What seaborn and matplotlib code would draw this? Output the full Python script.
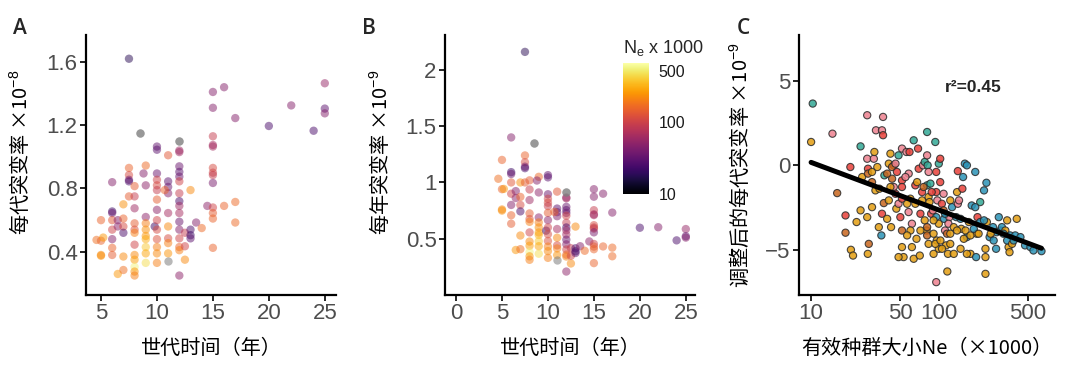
import numpy as np
import pandas as pd
import seaborn as sns
import matplotlib.pyplot as plt
from matplotlib.colors import LogNorm
from matplotlib.cm import ScalarMappable
from matplotlib.ticker import NullLocator

NA = np.nan

# panels A/B: generation time (years), mutation rate per generation (x1e-8), Ne (x1000)
gen_time = [7.5, 8.5, 8.5, 12, 12, 10, 10, 11, 12, 12,
            15, 15, 16, 17, 15, 15, 15, 15, 15, 15, 15, 14.5, 15, 16, 17, 17, 15, 15, 15,
            20, 22, 24, 25, 25, 25,
            5, 4.6, 5, 5.2, 5, 5,
            6, 6, 6, 6, 6, 6, 6, 6, 6.5, 6.5, 6.5,
            7, 7, 7, 7, 7, 7,
            7.5, 7.5, 7.5, 7.5, 7.5,
            8, 8, 8, 8, 8, 8, 8, 8, 8, 8, 8, 8,
            9, 8.8, 9, 9, 9, 9, 9, 9, 9, 9, 9,
            10, 10, 10, 10, 10, 10, 9.8, 10, 10, 10, 10, 10, 10,
            11, 11, 11, 11, 11, 11, 11, 11, 11, 10.7,
            12, 12, 12, 12, 12, 12, 12, 12, 12, 12, 12, 12, 12, 12,
            12.5, 12.5, 12.5,
            13, 13, 13, 13, 13.5, 14]
mu_gen = [1.62, 1.15, 1.15, 1.10, 1.10, 1.065, 1.045, 1.01, 1.03, 1.04,
          1.41, 1.31, 1.44, 1.245, 1.13, 1.075, 1.065, 0.93, 0.90, 0.885, 0.835, 0.69, 0.68, 0.69, 0.715, 0.585, 0.645, 0.61, 0.425,
          1.195, 1.325, 1.165, 1.465, 1.305, 1.275,
          0.60, 0.475, 0.47, 0.49, 0.38, 0.375,
          0.84, 0.655, 0.645, 0.60, 0.54, 0.48, 0.425, 0.38, 0.60, 0.56, 0.26,
          0.70, 0.61, 0.56, 0.52, 0.37, 0.285,
          0.93, 0.885, 0.855, 0.845, 0.75,
          0.815, 0.75, 0.675, 0.58, 0.54, 0.52, 0.445, 0.38, 0.35, 0.305, 0.275, 0.25,
          0.945, 0.895, 0.82, 0.62, 0.58, 0.54, 0.50, 0.48, 0.43, 0.39, 0.33,
          0.895, 0.855, 0.82, 0.79, 0.73, 0.665, 0.56, 0.60, 0.54, 0.48, 0.43, 0.39, 0.33,
          0.845, 0.81, 0.77, 0.645, 0.56, 0.485, 0.455, 0.39, 0.34, 0.79,
          0.94, 0.905, 0.875, 0.845, 0.77, 0.72, 0.69, 0.645, 0.59, 0.54, 0.485, 0.43, 0.41, 0.25,
          0.52, 0.435, 0.35,
          0.54, 0.505, 0.485, 0.79, 0.585, 0.55]
ne = [18, NA, NA, NA, NA, 32, 30, 130, 60, 60,
      45, 45, 45, 45, 90, 65, 65, 110, 100, 90, 40, 50, 100, 150, 160, 160, 140, 150, 150,
      25, 45, 25, 55, 30, 45,
      150, 170, 150, 250, 220, 230,
      45, 22, 35, 130, 100, 45, 150, 140, 45, 50, 250,
      230, 150, 110, 25, 220, 170,
      150, 110, 40, 25, 140,
      140, 90, 60, 140, 120, 200, 100, 220, 260, 550, 240, 200,
      160, 45, 50, 50, 200, 230, 250, 300, 380, 280, 450,
      35, 100, 110, 90, 140, 50, 22, 100, 110, 120, 200, 220, 200,
      30, 35, 45, 65, 220, 110, 200, 240, NA, 150,
      35, 30, 35, 100, 90, 25, 60, 65, 35, 45, 100, 150, 200, 50,
      90, 100, 220,
      25, 22, 30, 220, 45, 160]

# panel C: Ne (x1000), adjusted per-generation rate (x1e-9), group
ne_c = [10.3, 10, 14.7, 16, 18.6, 18.6, 20.3, 20.5, 21.3, 22.7,
        24.4, 24.4, 25.1, 27.5, 27.5, 27.9, 27.9, 28.3, 27.8, 27.5,
        30, 31, 31.3, 30, 31.9, 32.2, 35.9, 36.6, 36.6, 34.3,
        33.9, 35.9, 37.1, 37.5, 35.5, 39.4, 40.6, 41.8, 43.1, 44.4,
        42.3, 44.4, 45.8, 46.5, 48.4, 48.4, 51.5, 51.5, 51.5, 50,
        51.5, 51.5, 53, 55.8, 59, 58.1, 59.9, 61.6, 61.6, 63.6,
        63.6, 65.5, 67.6, 68.8, 69.6, 66.9, 71, 74, 75.2, 77.6,
        81, 81, 81.8, 83.2, 81, 83.2, 84.5, 80.3, 81, 83.2,
        87.1, 90, 93.9, 95.5, 100, 102.6, 102.6, 95.5, 97.4, 95.5,
        100, 96.4, 100, 95.5, 105.7, 109, 110, 112, 116, 114,
        118, 116.6, 121, 123, 127, 123, 137, 139, 141, 141,
        153, 150, 148, 160, 166, 166, 172, 177, 155, 166,
        181, 193, 201, 211, 226, 236, 211, 198, 196, 232,
        232, 232, 238, 250, 266, 284, 281, 303, 295, 312,
        332, 343, 352, 358, 362, 397, 408, 436, 474, 522,
        551, 637,
        39.4, 43, 47, 45.8, 41.8, 51.5, 54.8, 56.5, 58, 60,
        56.5, 65.5, 71.8, 74, 76, 86, 88, 91, 91, 94,
        103, 106, 109, 112, 119, 123, 131, 131, 144, 148,
        157, 162, 177, 188, 193, 205, 226, 255, 269, 321,
        343, 375, 386, 30, 33, 40.6, 48.4, 71.8, 77.6, 81,
        91, 139]
adj_rate = [3.65, 1.38, 1.87, -1.64, -2.96, -3.98, -0.1, -4.99, -5.33, -3.35,
            1.12, -2.66, -0.69, 2.96, 0.39, -0.2, -0.49, -4.64, -5.23, -3.06,
            -2.47, 0.39, 0.79, -0.39, -1.48, 2.07, 2.07, 2.86, 1.78, -1.38,
            -3.65, -2.86, -2.23, -0.59, -4.14, -3.16, 0.1, 0.69, -0.79, 0.0,
            -3.65, -1.28, -1.68, -2.56, -2.27, 0.59, 0.99, -0.89, -1.28, -3.06,
            -3.85, -4.83, -5.42, 0.79, 0.79, -0.49, -1.97, -3.45, -4.83, -5.52,
            1.48, -1.18, -0.99, 0.99, -0.2, -4.34, -5.33, -2.07, 0.0, 0.2,
            1.97, 0.59, 0.0, -0.39, -1.18, -1.87, -2.17, -3.85, -4.14, -4.64,
            -2.86, -2.66, 1.38, -0.39, 0.1, 0.39, -0.99, -1.58, -2.07, -3.06,
            -3.45, -4.44, -4.93, -6.9, -2.27, -2.66, -3.16, -3.85, -4.04, -4.73,
            -5.23, -6.27, -3.06, -2.07, -2.47, -4.04, -3.06, -1.58, -0.34, -2.27,
            -1.38, -3.75, -4.93, 0.1, 0.0, -4.24, -3.35, -5.23, -0.69, -5.23,
            -2.37, -0.39, -3.06, -2.17, -1.48, -1.03, -3.35, -4.04, -5.42, -4.93,
            -5.42, -6.41, -3.35, -4.24, -3.65, -3.95, -4.93, -3.85, -3.06, -3.65,
            -3.85, -3.25, -4.83, -5.13, -4.14, -4.14, -3.16, -4.24, -4.73, -4.83,
            -5.03, -5.07,
            -0.49, -0.1, -0.39, 0.1, -1.28, -1.97, -0.69, -2.27, -2.76, -3.85,
            -4.14, -2.27, -3.85, -1.58, -1.28, -1.08, -1.58, -4.04, -5.23, -4.64,
            -4.44, -4.93, -1.68, -2.86, -3.45, -4.64, -3.65, -5.23, -2.07, -3.16,
            -4.34, -3.85, -4.14, -3.75, -2.47, -4.04, -3.25, -4.04, -4.44, -4.04,
            -4.44, -4.64, -4.44, -0.99, -0.1, -2.07, -5.42, -2.86, -3.25, -3.65,
            -3.25, -3.85]
group_c = ["teal", "gold", "pink", "brown", "red", "brown", "red", "gold", "gold", "gold",
           "teal", "gold", "gold", "pink", "pink", "red", "brown", "brown", "gold", "gold",
           "gold", "pink", "gold", "gold", "gold", "pink", "pink", "pink", "red", "gold",
           "gold", "red", "brown", "teal", "blue", "gold", "gold", "gold", "brown", "brown",
           "gold", "pink", "red", "gold", "pink", "teal", "pink", "red", "red", "red",
           "brown", "gold", "gold", "pink", "red", "pink", "gold", "pink", "gold", "gold",
           "teal", "red", "gold", "red", "red", "gold", "gold", "gold", "pink", "teal",
           "teal", "pink", "teal", "pink", "teal", "gold", "gold", "gold", "brown", "gold",
           "red", "pink", "teal", "red", "teal", "red", "red", "red", "pink", "blue",
           "gold", "gold", "gold", "pink", "red", "brown", "blue", "pink", "brown", "gold",
           "gold", "gold", "pink", "gold", "blue", "gold", "blue", "gold", "red", "pink",
           "red", "gold", "gold", "blue", "blue", "blue", "gold", "gold", "blue", "gold",
           "blue", "blue", "red", "teal", "blue", "blue", "blue", "gold", "blue", "gold",
           "gold", "gold", "gold", "blue", "blue", "blue", "blue", "blue", "blue", "blue",
           "gold", "gold", "gold", "gold", "blue", "blue", "gold", "blue", "blue", "blue",
           "blue", "blue",
           "brown", "brown", "red", "pink", "gold", "red", "pink", "gold", "pink", "gold",
           "gold", "gold", "gold", "red", "brown", "teal", "red", "gold", "gold", "gold",
           "gold", "gold", "pink", "blue", "pink", "gold", "gold", "gold", "pink", "blue",
           "gold", "gold", "gold", "blue", "blue", "gold", "blue", "gold", "blue", "blue",
           "blue", "gold", "blue", "brown", "gold", "gold", "gold", "red", "gold", "brown",
           "gold", "gold"]
group_colors = {"gold": "#E39E12", "blue": "#2B93B6", "teal": "#33A896",
                "red": "#E8413A", "pink": "#EE8290", "brown": "#C8661E"}

sns.set_theme(style="ticks")
plt.rcParams['font.family'] = ['Liberation Sans', 'Noto Sans CJK SC', 'DejaVu Sans']
plt.rcParams['mathtext.fontset'] = 'custom'
plt.rcParams['mathtext.rm'] = 'Liberation Sans'
plt.rcParams['mathtext.it'] = 'Liberation Sans:italic'
CJK = ['Noto Sans CJK SC', 'DejaVu Sans']


def style(ax):
    sns.despine(ax=ax)
    for s in ("left", "bottom"):
        ax.spines[s].set_linewidth(1.6)
        ax.spines[s].set_color("black")
    ax.tick_params(length=4, width=1.2, color="black", labelcolor="#4D4D4D",
                   labelsize=16, pad=2)


df_a = pd.DataFrame({"gen_time": gen_time, "mu_gen": mu_gen, "ne": ne})
# per-year rate (x1e-9) = per-generation rate / generation time
df_a["mu_year"] = df_a["mu_gen"] * 10 / df_a["gen_time"]
known = df_a.dropna(subset=["ne"])
missing = df_a[df_a["ne"].isna()]
norm = LogNorm(10, 650)

fig = plt.figure(figsize=(10.8, 3.76), dpi=100)
ax_a = fig.add_axes([86 / 1080, 81 / 376, 250 / 1080, 260 / 376])
ax_b = fig.add_axes([445 / 1080, 81 / 376, 250 / 1080, 260 / 376])
ax_c = fig.add_axes([799 / 1080, 81 / 376, 256 / 1080, 260 / 376])

for ax, ycol in ((ax_a, "mu_gen"), (ax_b, "mu_year")):
    sns.scatterplot(data=known, x="gen_time", y=ycol, hue="ne", hue_norm=norm,
                    palette="inferno", s=36, alpha=0.5, linewidth=0, legend=False, ax=ax)
    sns.scatterplot(data=missing, x="gen_time", y=ycol, color="#7F7F7F",
                    s=36, alpha=0.55, linewidth=0, legend=False, ax=ax)
    style(ax)
    ax.set_xlabel("世代时间（年）", family=CJK, fontsize=14.5, color="black")
    ax.xaxis.set_label_coords(0.5, -0.165)

ax_a.set_xlim(3.66, 26)
ax_a.set_ylim(0.127, 1.77)
ax_a.set_xticks([5, 10, 15, 20, 25])
ax_a.set_yticks([0.4, 0.8, 1.2, 1.6])
ax_a.set_ylabel("每代突变率 ×10$^{-8}$", family=CJK, fontsize=14.5, color="black")
ax_a.yaxis.set_label_coords(-0.215, 0.55)

ax_b.set_xlim(-1.2, 26)
ax_b.set_ylim(0.0, 2.31)
ax_b.set_xticks([0, 5, 10, 15, 20, 25])
ax_b.set_yticks([0.5, 1, 1.5, 2])
ax_b.set_yticklabels(["0.5", "1", "1.5", "2"])
ax_b.set_ylabel("每年突变率 ×10$^{-9}$", family=CJK, fontsize=14.5, color="black")
ax_b.yaxis.set_label_coords(-0.212, 0.55)

cax = fig.add_axes([623 / 1080, 182 / 376, 26 / 1080, 131 / 376])
cbar = fig.colorbar(ScalarMappable(norm=norm, cmap="inferno"), cax=cax)
cbar.outline.set_visible(False)
cbar.set_ticks([10, 100, 500])
cbar.set_ticklabels(["10", "100", "500"])
cax.yaxis.set_minor_locator(NullLocator())
cax.tick_params(direction="in", color="white", length=3, width=0.8,
                labelsize=11.5, labelcolor="#1A1A1A", pad=7)
fig.text(623 / 1080, 1 - 53 / 376, "N$_{\\rm e}$ x 1000", fontsize=13, va="baseline")

df_c = pd.DataFrame({"ne": ne_c, "rate": adj_rate, "group": group_c})
sns.scatterplot(data=df_c, x="ne", y="rate", hue="group", palette=group_colors,
                s=27, alpha=0.85, edgecolor="#2A2A2A", linewidth=0.8, legend=False, ax=ax_c)
sns.regplot(data=df_c, x="ne", y="rate", logx=True, scatter=False, ci=None,
            line_kws=dict(color="black", lw=3.6), ax=ax_c)
ax_c.set_xscale("log")
ax_c.set_xlim(8.04, 813)
ax_c.set_ylim(-7.66, 7.7)
ax_c.set_xticks([10, 50, 100, 500])
ax_c.set_xticklabels(["10", "50", "100", "500"])
ax_c.xaxis.set_minor_locator(NullLocator())
ax_c.set_yticks([-5, 0, 5])
style(ax_c)
ax_c.text(186, 4.6, "r²=0.45", ha="center", va="center", fontsize=12.5, fontweight="bold")
ax_c.set_xlabel("有效种群大小Ne（×1000）", family=CJK, fontsize=14.5, color="black")
ax_c.xaxis.set_label_coords(0.5, -0.165)
ax_c.set_ylabel("调整后的每代突变率 ×10$^{-9}$", family=CJK, fontsize=14.5, color="black")
ax_c.yaxis.set_label_coords(-0.184, 0.5)

for x, lab in ((13, "A"), (362, "B"), (737, "C")):
    fig.text(x / 1080, 1 - 34 / 376, lab, fontsize=15, fontweight="semibold",
             family=["Open Sans", "DejaVu Sans"], va="baseline")

fig.savefig("out.png", dpi=100)
